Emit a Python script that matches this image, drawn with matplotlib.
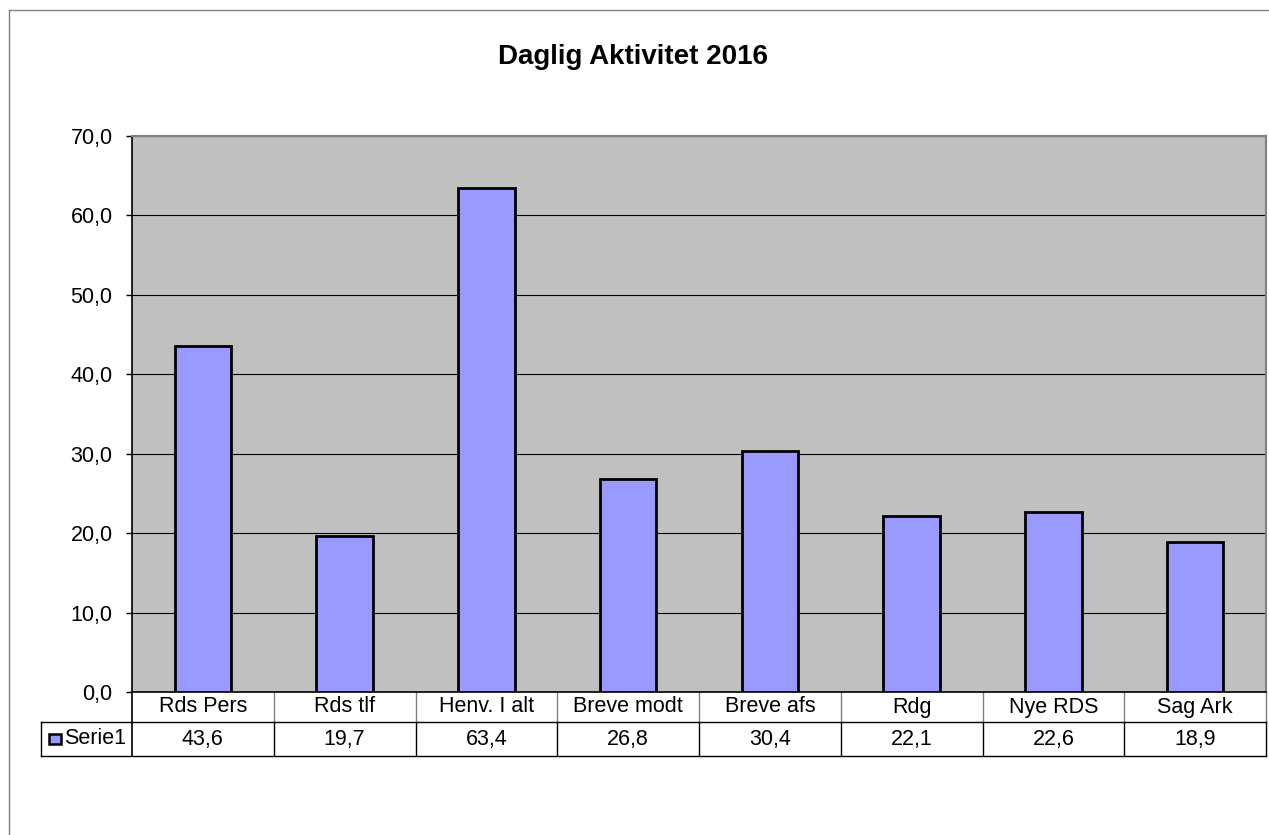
import matplotlib
matplotlib.use("Agg")
import matplotlib.pyplot as plt
from matplotlib.lines import Line2D
from matplotlib.patches import Rectangle

categories = ["Rds Pers", "Rds tlf", "Henv. I alt", "Breve modt", "Breve afs", "Rdg", "Nye RDS", "Sag Ark"]
values = [43.6, 19.7, 63.4, 26.8, 30.4, 22.1, 22.6, 18.9]
series_name = "Serie1"
title = "Daglig Aktivitet 2016"
yticks = [0, 10, 20, 30, 40, 50, 60, 70]

plt.rcParams['font.family'] = ['Liberation Sans', 'DejaVu Sans']
FS = 15.5

W, H = 1269, 835
fig = plt.figure(figsize=(W / 100, H / 100), dpi=100)

# outer chart frame (left/top visible)
fig.add_artist(Line2D([9 / W, 9 / W], [0, 1 - 10 / H], color="#808080", lw=1.0, transform=fig.transFigure))
fig.add_artist(Line2D([9 / W, 1], [1 - 10 / H, 1 - 10 / H], color="#808080", lw=1.0, transform=fig.transFigure))

left, right, top, bottom = 132, 1266, 136, 692
ax = fig.add_axes([left / W, (H - bottom) / H, (right - left) / W, (bottom - top) / H])
ax.set_facecolor("#C0C0C0")

x = list(range(len(categories)))
ax.bar(x, values, width=0.4, color="#9999FF", edgecolor="black", linewidth=2.0, zorder=3)

ax.set_xlim(-0.5, len(categories) - 0.5)
ax.set_ylim(0, 70)
ax.set_yticks(yticks)
ax.set_yticklabels([f"{v:.1f}".replace(".", ",") for v in yticks], fontsize=FS)
ax.yaxis.grid(True, color="black", lw=0.8, zorder=1)
ax.set_axisbelow(True)
ax.set_xticks([])
ax.tick_params(axis="y", length=4, width=1, pad=10, direction="out")

for s in ["top", "right"]:
    ax.spines[s].set_color("#808080")
    ax.spines[s].set_linewidth(1.5)
for s in ["left", "bottom"]:
    ax.spines[s].set_color("black")
    ax.spines[s].set_linewidth(1.2)

fig.text(632.5 / W, 1 - 57 / H, title, fontsize=20, fontweight="bold", ha="center", va="center")

# data table below the axes
ph = bottom - top
r1 = -30 / ph
r2 = -64 / ph
xt = ax.get_xaxis_transform()
tr = ax.transAxes
n = len(categories)
for i in range(n):
    xs = i + 0.5
    ax.add_line(Line2D([xs, xs], [0, r1], color="#808080", lw=1.0, transform=xt, clip_on=False))
    ax.add_line(Line2D([xs, xs], [r1, r2], color="black", lw=1.0, transform=xt, clip_on=False))
ax.add_line(Line2D([-0.5, -0.5], [0, r2], color="black", lw=1.2, transform=xt, clip_on=False))
leg_left = (41 - left) / (right - left)
ax.add_line(Line2D([leg_left, 1], [r1, r1], color="black", lw=1.0, transform=tr, clip_on=False))
ax.add_line(Line2D([leg_left, 1], [r2, r2], color="black", lw=1.0, transform=tr, clip_on=False))
ax.add_line(Line2D([leg_left, leg_left], [r1, r2], color="black", lw=1.0, transform=tr, clip_on=False))

for i, (c, v) in enumerate(zip(categories, values)):
    ax.text(i, r1 / 2, c, transform=xt, ha="center", va="center", fontsize=FS, clip_on=False)
    ax.text(i, (r1 + r2) / 2, f"{v:.1f}".replace(".", ","), transform=xt, ha="center", va="center", fontsize=FS, clip_on=False)

# legend key
kx0 = (49 - left) / (right - left)
kw = 12 / (right - left)
kh = 10 / ph
ky = (r1 + r2) / 2 - kh / 2
ax.add_patch(Rectangle((kx0, ky), kw, kh, facecolor="#9999FF", edgecolor="black", lw=1.8, transform=tr, clip_on=False))
ax.text((64 - left) / (right - left), (r1 + r2) / 2, series_name, transform=tr, ha="left", va="center", fontsize=FS, clip_on=False)

fig.savefig("out.png", dpi=100)
